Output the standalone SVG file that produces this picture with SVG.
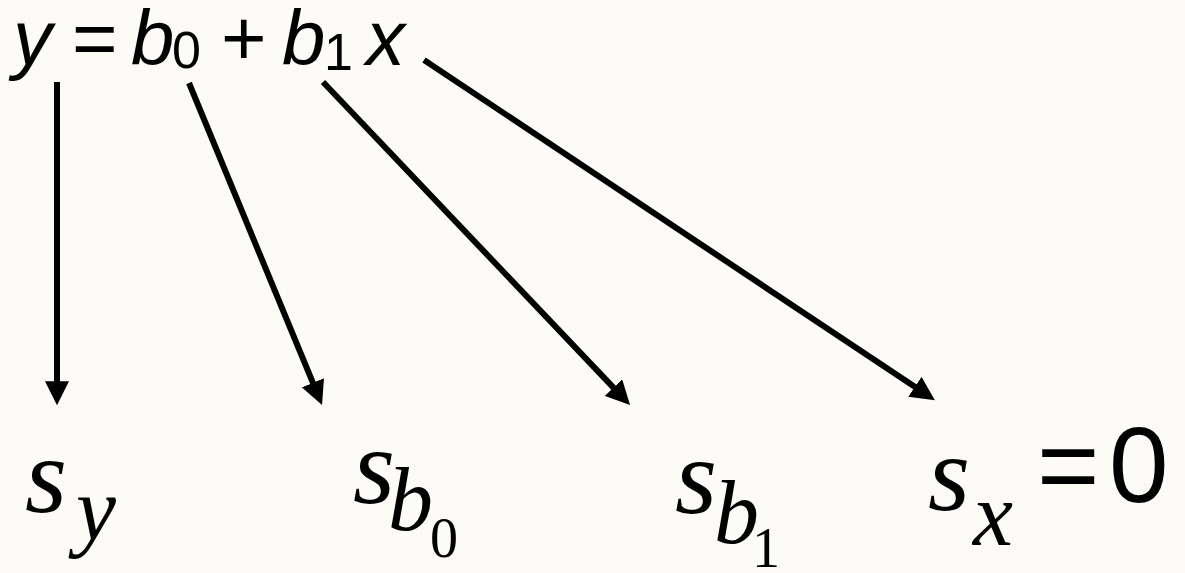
<svg xmlns="http://www.w3.org/2000/svg" width="1185" height="573" viewBox="0 0 1185 573">
<style>
.conn line{stroke:#000;stroke-width:6;fill:none;marker-end:url(#ah)}
</style>
<defs>
<marker id="ah" viewBox="0 0 10 10" refX="2" refY="5" markerWidth="24" markerHeight="24" markerUnits="userSpaceOnUse" orient="auto">
<path d="M0,0 L10,5 L0,10 z" fill="#000"/>
</marker>
</defs>
<rect width="1185" height="573" fill="#fcfbf8"/>
<g id="equation" font-family="Liberation Sans, Arial, sans-serif" fill="#000">
<text font-size="78"><tspan x="13" y="65" font-style="italic">y</tspan><tspan x="72" y="65">=</tspan><tspan x="131" y="65" font-style="italic">b</tspan><tspan x="172" y="68" font-size="52">0</tspan><tspan x="221" y="65">+</tspan><tspan x="282" y="65" font-style="italic">b</tspan><tspan x="324" y="70" font-size="52">1</tspan><tspan x="366" y="65" font-style="italic">x</tspan></text>
</g>
<g id="sy" font-family="Liberation Serif, Times New Roman, serif" fill="#000">
<text font-style="italic"><tspan x="25" y="512" font-size="108">s</tspan><tspan x="76" y="540" font-size="90">y</tspan></text>
</g>
<g id="sb0" font-family="Liberation Serif, Times New Roman, serif" fill="#000">
<text><tspan x="353" y="503" font-size="108" font-style="italic">s</tspan><tspan x="388" y="530" font-size="90" font-style="italic">b</tspan><tspan x="430" y="557" font-size="56">0</tspan></text>
</g>
<g id="sb1" font-family="Liberation Serif, Times New Roman, serif" fill="#000">
<text><tspan x="675" y="513" font-size="108" font-style="italic">s</tspan><tspan x="714" y="543" font-size="90" font-style="italic">b</tspan><tspan x="752" y="567" font-size="56">1</tspan></text>
</g>
<g id="sx" fill="#000">
<text font-family="Liberation Serif, Times New Roman, serif" font-style="italic"><tspan x="928" y="510" font-size="108">s</tspan><tspan x="973" y="545" font-size="90">x</tspan></text>
<text font-family="Liberation Sans, Arial, sans-serif" font-size="107"><tspan x="1037" y="502">=</tspan><tspan x="1109" y="502">0</tspan></text>
</g>
<g class="conn" id="connectors">
<line x1="57" y1="82" x2="57" y2="386"/>
<line x1="189" y1="83" x2="314.7" y2="387.2"/>
<line x1="323" y1="82" x2="616.8" y2="391.1"/>
<line x1="424" y1="60" x2="918.9" y2="389.5"/>
</g>
</svg>
